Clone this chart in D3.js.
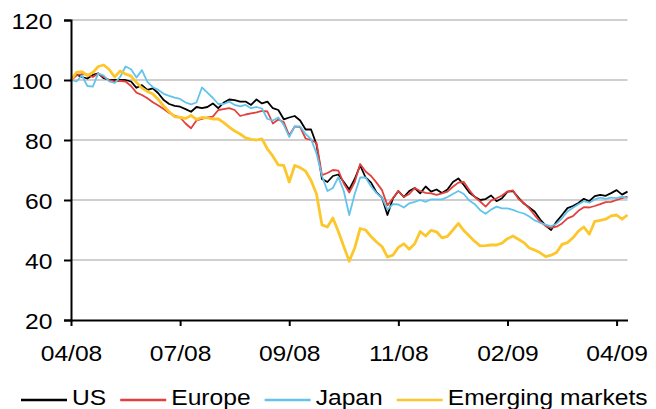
<!DOCTYPE html>
<html>
<head>
<meta charset="utf-8">
<script src="https://cdn.jsdelivr.net/npm/d3@7"></script>
<style>
  body { margin: 0; background: #fff; }
  svg { display: block; font-family: "Liberation Sans", Arial, sans-serif; }
</style>
</head>
<body>
<div id="chart"></div>
<script>
// Werte je Handelstag-Index (0 = 04/08)
const tickLabels = ["04/08", "07/08", "09/08", "11/08", "02/09", "04/09"];
const tickIndex = [0, 20, 40, 60, 80, 100];
const yTicks = [20, 40, 60, 80, 100, 120];

const usValues = [
  100, 101.8, 101, 100.5, 101.7, 102.2, 100.6, 100, 100, 100,
  100, 99.5, 97.4, 98.3, 96.7, 97.2, 95.6, 93.3, 92, 91.4,
  91.1, 90.3, 89.4, 91, 90.6, 91, 92.2, 90.6, 92.5, 93.5,
  93.3, 92.8, 92.8, 91.7, 93.5, 92.2, 92.8, 90.6, 90, 86.9,
  87.5, 88, 86.5, 83.5, 83.5, 78.5, 67, 66, 68, 68.5,
  66, 63.5, 67, 71.5, 67.5, 65.8, 62.5, 60.8, 55, 60.5,
  63, 61, 63, 64, 62.2, 64.5, 62.8, 63.5, 62.3, 63.5,
  66, 67.2, 65, 62.5, 61.1, 60, 60.3, 61.5, 59.6, 60.6,
  62.8, 63, 60.8, 58.8, 57.5, 56.1, 53.5, 51.5, 50, 52.8,
  55, 57.3, 58, 59, 60.4, 59.6, 61.3, 61.7, 61.4, 62.3,
  63.3, 61.8, 62.8
];

const europeValues = [
  100, 101.5, 102, 101.8, 101, 102.2, 101, 100, 99.5, 99.7,
  99.5, 98, 95.8, 95, 93.9, 92.6, 91.5, 90.3, 89, 88.1,
  87.5, 85.5, 83.9, 86.5, 87, 87.5, 87.8, 90, 90.3, 90.6,
  90, 88, 88.5, 88.9, 89.2, 89.7, 89.5, 85.5, 86.8, 86,
  81.5, 84.5, 84.3, 80.5, 80, 79, 68.3, 69, 70, 69.8,
  65.5, 62.5, 66, 72, 69.5, 68, 65.8, 63.3, 58.2, 60.6,
  63, 61, 62, 64, 63, 62.4, 62.2, 61.7, 62.2, 62.8,
  64.4, 65.8, 66, 63.3, 61, 59.5, 57.8, 59.8, 60.6, 61.5,
  62.8, 63.2, 60.4, 59, 57.2, 54.9, 52.8, 51.3, 50.7, 51.1,
  52.2, 53.9, 54.6, 56.4, 57.6, 57.5, 58, 58.6, 59.3, 59.4,
  60, 60.6, 61.1
];

const japanValues = [
  100, 99.5, 101.5, 98, 97.8, 102.2, 101.5, 99.5, 99, 101,
  104.5, 103.6, 100.8, 103.3, 99.4, 97.6, 96.7, 95.4, 94.7, 94.1,
  93.7, 92.5, 91.9, 92.5, 97.5, 95.8, 94, 92, 92, 92.8,
  91.7, 91.2, 91.7, 90.6, 91, 90.5, 87, 86.5, 87.5, 85,
  81, 84.5, 84.5, 82, 80.3, 75.5, 68, 63, 64, 67.6,
  63, 55, 62, 67.5, 67.5, 64.5, 62.3, 60.8, 56.8, 58.6,
  58.5, 57.5, 58.9, 59.4, 60, 59.4, 60.2, 60.2, 60.2, 61,
  62, 63, 62, 59.8, 58.6, 56.6, 55.4, 56.8, 57.8, 57.2,
  57.2, 56.7, 56, 55.5, 54.5, 53.2, 52.4, 51.8, 51.2, 52.1,
  53.9, 56.2, 57.4, 58.6, 59.6, 59.1, 60.2, 60.8, 60.4, 60.8,
  60.6, 61.1, 60.6
];

const emValues = [
  100, 102.5, 102.8, 101.5, 102.5, 104.5, 105, 103.5, 101, 103,
  102, 101.3, 99.2, 97.3, 96.2, 95.3, 93.5, 91.3, 89.4, 87.8,
  87.5, 87.2, 88.2, 86.9, 87.5, 87.4, 87, 87, 85.8, 84.3,
  83, 82, 80.7, 80.2, 80, 80.4, 77, 74.6, 71.7, 71.5,
  66, 71.5, 70.8, 69.6, 66.5, 62, 51.7, 51, 54, 49.5,
  44.5, 39.6, 44, 50.5, 50, 47.8, 46, 44.5, 41, 41.6,
  44.2, 45.4, 43.6, 45.4, 49.5, 48, 49.9, 49.4, 47.4, 47.9,
  50, 52.2, 49.8, 48, 46.2, 44.7, 44.8, 45, 45, 45.6,
  47.1, 48, 46.9, 45.8, 44, 43.3, 42.4, 41.1, 41.6, 42.5,
  45.2, 45.8, 47.4, 49.6, 51, 48.6, 52.9, 53.2, 53.6, 54.7,
  55, 53.6, 55
];

const seriesNames = ["US", "Europe", "Japan", "Emerging markets"];
const seriesColors = ["#000000", "#e2403d", "#63c3ec", "#fcc72c"];
const seriesWidths = [1.8, 1.8, 1.8, 2.8];
const seriesValues = [usValues, europeValues, japanValues, emValues];

// Schrift in der Vorlage ist leicht in die Breite gezogen
const stretch = 1.12;

function renderChart() {
    const width = 656, height = 409;
    const margin = { top: 20, right: 28.5, bottom: 89, left: 71 };

    const svg = d3.select("#chart")
        .append("svg")
        .attr("width", width)
        .attr("height", height);

    const x = d3.scaleLinear()
        .domain([0, usValues.length - 1])
        .range([margin.left, width - margin.right]);

    const y = d3.scaleLinear()
        .domain([20, 120])
        .range([height - margin.bottom, margin.top]);

    // horizontale Gitterlinien
    svg.append("g")
        .selectAll("line")
        .data(yTicks.filter(v => v > 20))
        .enter()
        .append("line")
        .attr("x1", x.range()[0])
        .attr("x2", x.range()[1])
        .attr("y1", d => y(d))
        .attr("y2", d => y(d))
        .attr("stroke", "#bfbfbf")
        .attr("stroke-width", 1.3);

    const line = d3.line()
        .x((d, i) => x(i))
        .y(d => y(d));

    svg.append("g")
        .selectAll("path")
        .data(seriesValues)
        .enter()
        .append("path")
        .attr("d", d => line(d))
        .attr("fill", "none")
        .attr("stroke", (d, i) => seriesColors[i])
        .attr("stroke-width", (d, i) => seriesWidths[i])
        .attr("stroke-linejoin", "round");

    const yAxis = g => g
        .attr("transform", `translate(${margin.left},0)`)
        .call(d3.axisLeft(y).tickValues(yTicks).tickSize(7))
        .call(g => g.selectAll("path, line").attr("stroke", "#000").attr("stroke-width", 2))
        .call(g => g.selectAll("text")
            .style("font-size", "22px")
            .attr("fill", "#000")
            .attr("x", -18.5 / stretch)
            .attr("dy", "0.37em")
            .attr("transform", `scale(${stretch},1)`));

    const xAxis = g => g
        .attr("transform", `translate(0,${height - margin.bottom})`)
        .call(d3.axisBottom(x).tickValues(tickIndex).tickFormat((d, i) => tickLabels[i]).tickSize(6).tickSizeOuter(0))
        .call(g => g.selectAll("path, line").attr("stroke", "#000").attr("stroke-width", 2))
        .call(g => g.selectAll("text")
            .style("font-size", "22px")
            .attr("fill", "#000")
            .attr("y", 41)
            .attr("dy", null)
            .attr("transform", `scale(${stretch},1)`));

    svg.append("g").attr("font-family", null).call(yAxis);
    svg.append("g").attr("font-family", null).call(xAxis);

    // Legende unten
    const legend = svg.append("g");
    let lx = 21;
    seriesNames.forEach((name, i) => {
        legend.append("line")
            .attr("x1", lx).attr("x2", lx + 46)
            .attr("y1", 400).attr("y2", 400)
            .attr("stroke", seriesColors[i])
            .attr("stroke-width", 2.5);
        const t = legend.append("text")
            .attr("transform", `translate(${lx + 51},405) scale(${stretch},1)`)
            .style("font-size", "22px")
            .text(name);
        lx += 51 + t.node().getComputedTextLength() * stretch + 14;
    });
}

renderChart();
</script>
</body>
</html>
